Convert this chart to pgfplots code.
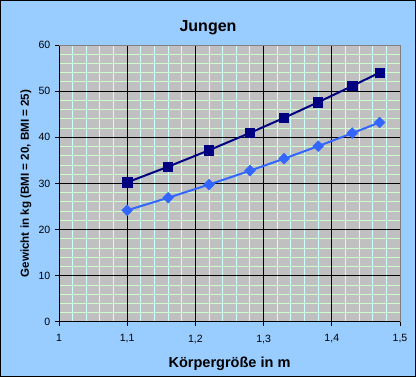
\documentclass[border=0pt]{standalone}
\usepackage{fontspec}
\setmainfont{Liberation Sans}
\usepackage{pgfplots}
\pgfplotsset{compat=1.18}
\definecolor{bgblue}{HTML}{99CCFF}
\definecolor{plotgray}{HTML}{C0C0C0}
\definecolor{minorx}{HTML}{CCFFFF}
\definecolor{minory}{HTML}{CCFFCC}
\definecolor{darkser}{HTML}{000080}
\definecolor{lightser}{HTML}{3366FF}
\definecolor{framegray}{HTML}{808080}
\begin{document}
\begin{tikzpicture}
\fill[bgblue] (0pt,0pt) rectangle (312pt,282.75pt);
\draw[black,line width=0.75pt] (0.375pt,0.375pt) rectangle (311.625pt,282.375pt);
\begin{axis}[
  at={(44.25pt,41.25pt)}, anchor=south west,
  scale only axis, width=255.75pt, height=207.75pt,
  xmin=1, xmax=1.5, ymin=0, ymax=60,
  axis x line*=bottom, axis y line*=left,
  axis line style={black, line width=0.75pt},
  tick align=outside, major tick length=3pt, minor tick length=0pt,
  tick style={black, line width=0.75pt},
  xtick={1,1.1,1.2,1.3,1.4,1.5},
  ytick={0,10,20,30,40,50,60},
  minor xtick={1.02,1.04,1.06,1.08,1.12,1.14,1.16,1.18,1.22,1.24,1.26,1.28,1.32,1.34,1.36,1.38,1.42,1.44,1.46,1.48},
  minor ytick={2,4,6,8,12,14,16,18,22,24,26,28,32,34,36,38,42,44,46,48,52,54,56,58},
  grid=minor,
  minor x grid style={minorx, line width=0.75pt},
  minor y grid style={minory, line width=0.75pt},
  axis background/.style={fill=plotgray},
  /pgf/number format/use comma,
  /pgf/number format/assume math mode=true,
  ticklabel style={font=\fontsize{7.9}{9}\selectfont},
  xticklabel style={yshift=-3pt},
  every axis title shift=0pt,
  title={\textbf{Jungen}},
  title style={at={(0.437,1.062)}, anchor=center, yshift=0pt, font=\fontsize{12}{14}\selectfont},
  xlabel={\textbf{Körpergröße in m}},
  xlabel style={at={(0.5,-0.151)}, anchor=center, font=\fontsize{10.9}{13}\selectfont},
  ylabel={\textbf{Gewicht in kg (BMI = 20, BMI = 25)}},
  ylabel style={at={(-0.0968,0.5)}, anchor=center, font=\fontsize{8.7}{10}\selectfont},
  after end axis/.code={\draw[framegray, line width=0.75pt] (rel axis cs:0,1) -- (rel axis cs:1,1) -- (rel axis cs:1,0);},
  clip=false,
]
\pgfplotsinvokeforeach{1.1,1.2,1.3,1.4}{\draw[black, line width=0.75pt] (axis cs:#1,0) -- (axis cs:#1,60);}
\pgfplotsinvokeforeach{10,20,30,40,50}{\draw[black, line width=0.75pt] (axis cs:1,#1) -- (axis cs:1.5,#1);}
\addplot[darkser, line width=1.5pt, mark=square*, mark size=3.5pt, mark options={solid, line width=0.5pt}]
  coordinates {(1.10,30.25) (1.16,33.64) (1.22,37.21) (1.28,40.96) (1.33,44.22) (1.38,47.61) (1.43,51.12) (1.47,54.02)};
\addplot[lightser, line width=1.5pt, mark=square*, mark size=2.8pt, mark options={solid, rotate=45, line width=0.5pt}]
  coordinates {(1.10,24.20) (1.16,26.91) (1.22,29.77) (1.28,32.77) (1.33,35.38) (1.38,38.09) (1.43,40.90) (1.47,43.22)};
\end{axis}
\pgfresetboundingbox
\path[use as bounding box] (0pt,0pt) rectangle (312pt,282.75pt);
\end{tikzpicture}
\end{document}
